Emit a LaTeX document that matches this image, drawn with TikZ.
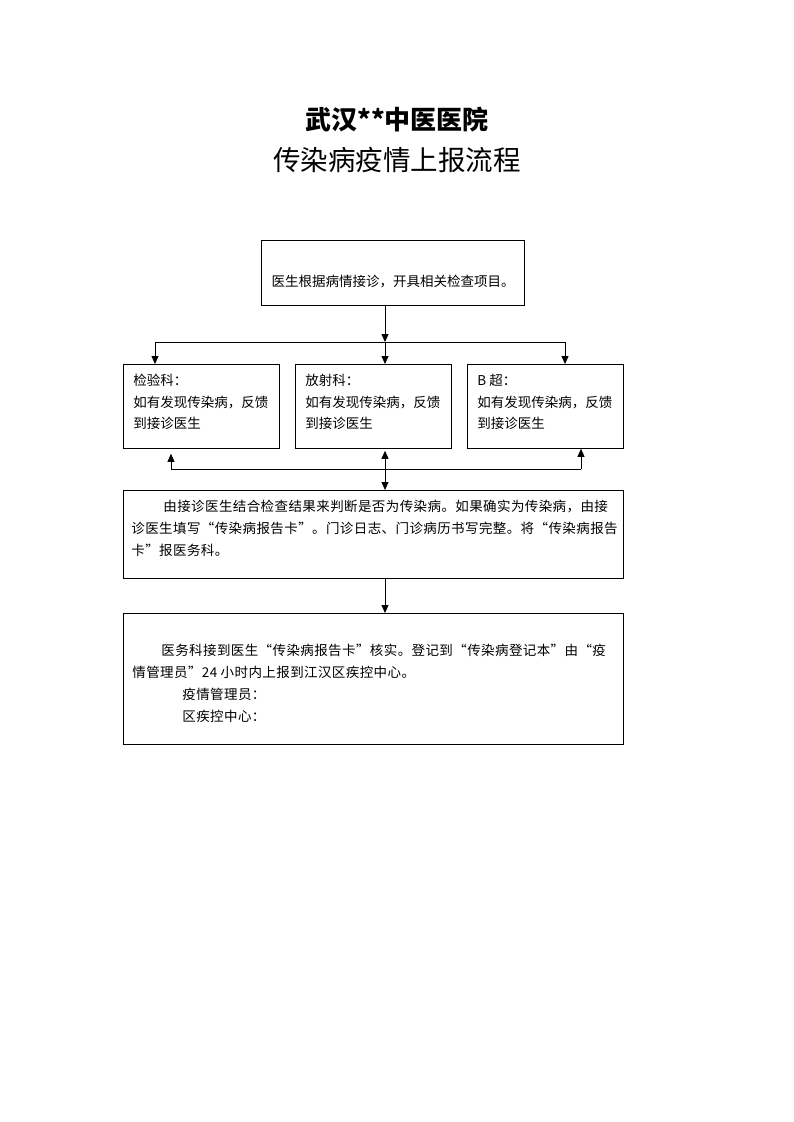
\documentclass[tikz,border=0pt]{standalone}
\usepackage{fontspec}
\setmainfont{Noto Sans CJK SC}
\newfontfamily\spacedcjk[LetterSpace=3]{Noto Sans CJK SC}
\usetikzlibrary{arrows.meta}

\tikzset{
  box/.style={rectangle, draw, line width=0.8pt, inner sep=0pt},
  txt/.style={inner sep=0pt, align=left, font=\fontsize{13.5}{21.5}\selectfont},
  wide/.style={inner sep=0pt, align=left, font=\spacedcjk\fontsize{13.5}{22}\selectfont},
}

\begin{document}
\begin{tikzpicture}[x=1pt, y=-1pt, line width=0.8pt, >={Triangle[length=8pt,width=7pt]}]

    \useasboundingbox (0,0) rectangle (793,1122);

    % titles
    \node[font=\fontsize{26}{26}\selectfont\bfseries] (Title) at (397,119) {武汉**中医医院};
    \node[font=\fontsize{27.5}{27.5}\selectfont] (Subtitle) at (397,160) {传染病疫情上报流程};

    % first step
    \node[box,
          minimum width = 263pt,
          minimum height = 65pt,
          anchor=north west] (Doctor) at (261,240) {};
    \node[txt] at (393,281) {医生根据病情接诊，开具相关检查项目。};

    % three departments
    \node[box,
          minimum width = 156pt,
          minimum height = 84pt,
          anchor=north west] (Lab) at (123,364) {};
    \node[txt, anchor=north west] at ([xshift=10pt,yshift=-10pt]Lab.north west)
        {检验科：\\如有发现传染病，反馈\\到接诊医生};

    \node[box,
          minimum width = 156pt,
          minimum height = 84pt,
          anchor=north west] (Radio) at (295,364) {};
    \node[txt, anchor=north west] at ([xshift=10pt,yshift=-10pt]Radio.north west)
        {放射科：\\如有发现传染病，反馈\\到接诊医生};

    \node[box,
          minimum width = 156pt,
          minimum height = 84pt,
          anchor=north west] (Ultra) at (467,364) {};
    \node[txt, anchor=north west] at ([xshift=10pt,yshift=-10pt]Ultra.north west)
        {B 超：\\如有发现传染病，反馈\\到接诊医生};

    % judgement by doctor
    \node[box,
          minimum width = 500pt,
          minimum height = 88pt,
          anchor=north west] (Judge) at (123,490) {};
    \node[wide, anchor=north west] at ([xshift=8pt,yshift=-10pt]Judge.north west)
        {\hspace*{32pt}由接诊医生结合检查结果来判断是否为传染病。如果确实为传染病，由接\\诊医生填写“传染病报告卡”。门诊日志、门诊病历书写完整。将“传染病报告\\卡”报医务科。};

    % medical affairs
    \node[box,
          minimum width = 500pt,
          minimum height = 131pt,
          anchor=north west] (Affairs) at (123,613) {};
    \node[wide, anchor=north west] at ([xshift=9pt,yshift=-31pt]Affairs.north west)
        {\hspace*{29pt}医务科接到医生“传染病报告卡”核实。登记到“传染病登记本”由“疫\\情管理员”24 小时内上报到江汉区疾控中心。\\\hspace*{50pt}疫情管理员：\\\hspace*{50pt}区疾控中心：};

    % connectors
    \coordinate (axis) at (385,0);
    \coordinate (split) at (385,342);
    \coordinate (splitL) at (155,342);
    \coordinate (splitR) at (565,342);
    \coordinate (backL) at (171,469);
    \coordinate (backR) at (581,469);

    \draw[->] (axis |- Doctor.south) -- (split);
    \draw (splitL) -- (splitR);
    \draw[->] (splitL) -- (splitL |- Lab.north);
    \draw[->] (split) -- (axis |- Radio.north);
    \draw[->] (splitR) -- (splitR |- Ultra.north);

    \draw (backL) -- (backR);
    \draw[->] (backL) -- ([yshift=-5pt]backL |- Lab.south);
    \draw[->] (backR) -- (backR |- Ultra.south);
    \draw[<->] ([yshift=-2pt]axis |- Radio.south) -- (axis |- Judge.north);

    \draw[->] (axis |- Judge.south) -- (axis |- Affairs.north);

\end{tikzpicture}
\end{document}
